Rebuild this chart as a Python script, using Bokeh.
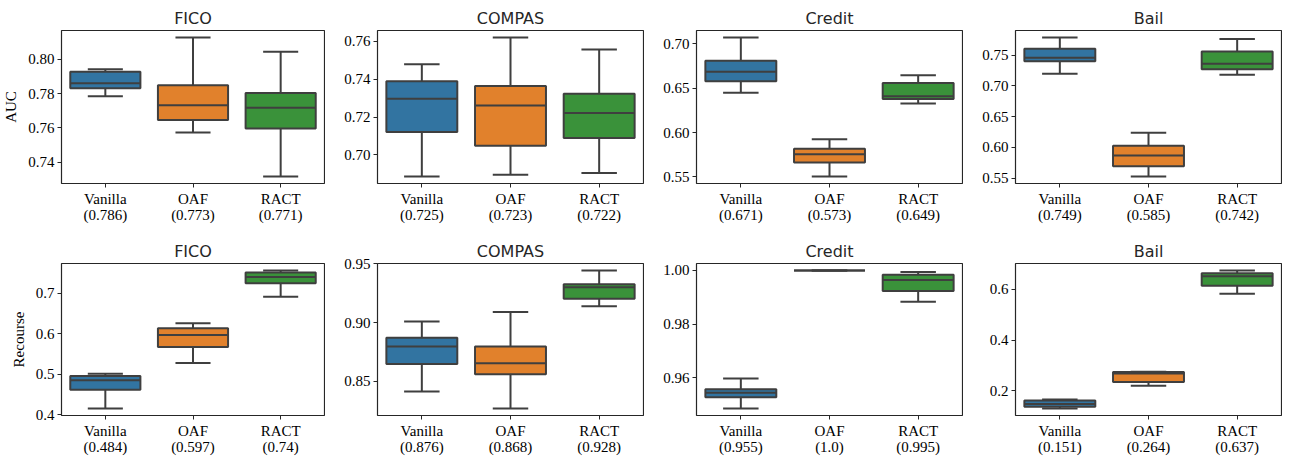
from bokeh.plotting import figure
from bokeh.layouts import gridplot
from bokeh.models import Range1d, FixedTicker, NumeralTickFormatter
from bokeh.embed import file_html
from bokeh.resources import INLINE

methods = ["Vanilla", "OAF", "RACT"]
colors = ["#3274a1", "#e1812c", "#3a923a"]
datasets = ["FICO", "COMPAS", "Credit", "Bail"]
metrics = ["AUC", "Recourse"]

# per method: [lower whisker, q1, median, q3, upper whisker]
fico_auc = [[0.7784, 0.7831, 0.7860, 0.7928, 0.7942],
            [0.7573, 0.7645, 0.7732, 0.7849, 0.8128],
            [0.7315, 0.7596, 0.7717, 0.7804, 0.8045]]
compas_auc = [[0.6886, 0.7122, 0.7297, 0.7389, 0.7480],
              [0.6896, 0.7049, 0.7262, 0.7364, 0.7621],
              [0.6905, 0.7090, 0.7222, 0.7324, 0.7558]]
credit_auc = [[0.6447, 0.6577, 0.6686, 0.6809, 0.7071],
              [0.5504, 0.5661, 0.5755, 0.5818, 0.5923],
              [0.6327, 0.6379, 0.6409, 0.6559, 0.6645]]
bail_auc = [[0.7198, 0.7398, 0.7457, 0.7602, 0.7786],
            [0.5527, 0.5694, 0.5867, 0.6028, 0.6239],
            [0.7182, 0.7268, 0.7360, 0.7559, 0.7759]]
fico_rec = [[0.4147, 0.4613, 0.4849, 0.4957, 0.5013],
            [0.5275, 0.5675, 0.5970, 0.6141, 0.6264],
            [0.6918, 0.7253, 0.7409, 0.7523, 0.7572]]
compas_rec = [[0.8413, 0.8646, 0.8795, 0.8871, 0.9008],
              [0.8267, 0.8559, 0.8654, 0.8795, 0.9090],
              [0.9138, 0.9202, 0.9301, 0.9326, 0.9444]]
credit_rec = [[0.9486, 0.9528, 0.9545, 0.9558, 0.9598],
              [1.0000, 1.0000, 1.0000, 1.0000, 1.0000],
              [0.9883, 0.9923, 0.9964, 0.9984, 0.9994]]
bail_rec = [[0.1304, 0.1381, 0.1486, 0.1625, 0.1664],
            [0.2206, 0.2349, 0.2686, 0.2745, 0.2750],
            [0.5822, 0.6130, 0.6503, 0.6620, 0.6736]]

# means shown in tick labels
fico_auc_mean = [0.786, 0.773, 0.771]
compas_auc_mean = [0.725, 0.723, 0.722]
credit_auc_mean = [0.671, 0.573, 0.649]
bail_auc_mean = [0.749, 0.585, 0.742]
fico_rec_mean = [0.484, 0.597, 0.74]
compas_rec_mean = [0.876, 0.868, 0.928]
credit_rec_mean = [0.955, 1.0, 0.995]
bail_rec_mean = [0.151, 0.264, 0.637]

# y tick positions
fico_auc_ticks = [0.74, 0.76, 0.78, 0.80]
compas_auc_ticks = [0.70, 0.72, 0.74, 0.76]
credit_auc_ticks = [0.55, 0.60, 0.65, 0.70]
bail_auc_ticks = [0.55, 0.60, 0.65, 0.70, 0.75]
fico_rec_ticks = [0.4, 0.5, 0.6, 0.7]
compas_rec_ticks = [0.85, 0.90, 0.95]
credit_rec_ticks = [0.96, 0.98, 1.00]
bail_rec_ticks = [0.2, 0.4, 0.6]

panels = [
    [(fico_auc, fico_auc_mean, fico_auc_ticks, "0.00"),
     (compas_auc, compas_auc_mean, compas_auc_ticks, "0.00"),
     (credit_auc, credit_auc_mean, credit_auc_ticks, "0.00"),
     (bail_auc, bail_auc_mean, bail_auc_ticks, "0.00")],
    [(fico_rec, fico_rec_mean, fico_rec_ticks, "0.0"),
     (compas_rec, compas_rec_mean, compas_rec_ticks, "0.00"),
     (credit_rec, credit_rec_mean, credit_rec_ticks, "0.00"),
     (bail_rec, bail_rec_mean, bail_rec_ticks, "0.0")],
]

EDGE = "#3f3f3f"
TXT = "#262626"
SERIF = "Liberation Serif"

row_cfg = [dict(height=227, top=30, bottom=44), dict(height=232, top=36, bottom=44)]

rows = []
for r, row in enumerate(panels):
    figs = []
    for c, (stats, means, ticks, fmt) in enumerate(row):
        allv = [v for s in stats for v in s]
        lo, hi = min(allv), max(allv)
        pad = (hi - lo) * 0.05
        left = 58 if c == 0 else 52
        width = left + 266 + 1
        p = figure(width=width, height=row_cfg[r]["height"],
                   x_range=Range1d(-0.5, 2.5), y_range=Range1d(lo - pad, hi + pad),
                   output_backend="svg", toolbar_location=None,
                   min_border_left=left, min_border_right=1,
                   min_border_top=row_cfg[r]["top"], min_border_bottom=row_cfg[r]["bottom"],
                   title=datasets[c])
        p.title.align = "center"
        p.title.text_font = "DejaVu Sans"
        p.title.text_font_size = "16px"
        p.title.text_font_style = "normal"
        p.title.text_color = TXT
        p.title.standoff = 5
        p.xgrid.visible = False
        p.ygrid.visible = False
        p.outline_line_color = TXT
        p.outline_line_width = 1.2
        p.background_fill_color = "white"

        xs = list(range(len(methods)))
        low = [s[0] for s in stats]
        q1 = [s[1] for s in stats]
        med = [s[2] for s in stats]
        q3 = [s[3] for s in stats]
        high = [s[4] for s in stats]

        p.segment(x0=xs, y0=q3, x1=xs, y1=high, line_color=EDGE, line_width=2)
        p.segment(x0=xs, y0=q1, x1=xs, y1=low, line_color=EDGE, line_width=2)
        p.vbar(x=xs, width=0.8, bottom=q1, top=q3, fill_color=colors,
               line_color=EDGE, line_width=2)
        p.segment(x0=[x - 0.4 for x in xs], y0=med, x1=[x + 0.4 for x in xs], y1=med,
                  line_color=EDGE, line_width=2)
        p.segment(x0=[x - 0.2 for x in xs], y0=high, x1=[x + 0.2 for x in xs], y1=high,
                  line_color=EDGE, line_width=2)
        p.segment(x0=[x - 0.2 for x in xs], y0=low, x1=[x + 0.2 for x in xs], y1=low,
                  line_color=EDGE, line_width=2)

        p.xaxis.ticker = FixedTicker(ticks=xs)
        p.xaxis.major_label_overrides = {x: f"{methods[x]}\n({means[x]})" for x in xs}
        p.yaxis.ticker = FixedTicker(ticks=ticks)
        p.yaxis.formatter = NumeralTickFormatter(format=fmt)
        for ax in (p.xaxis, p.yaxis):
            ax.axis_line_color = None
            ax.major_tick_line_color = TXT
            ax.major_tick_out = 4
            ax.major_tick_in = 0
            ax.minor_tick_line_color = None
            ax.major_label_text_font = SERIF
            ax.major_label_text_font_size = "15px"
            ax.major_label_text_color = "black"
            ax.major_label_standoff = 3
            ax.major_label_text_line_height = 1.0
        if c == 0:
            p.yaxis.axis_label = metrics[r]
            p.yaxis.axis_label_text_font = SERIF
            p.yaxis.axis_label_text_font_size = "15px"
            p.yaxis.axis_label_text_font_style = "normal"
            p.yaxis.axis_label_text_color = "black"
            p.yaxis.axis_label_standoff = 6
        figs.append(p)
    rows.append(figs)

layout = gridplot(rows, toolbar_location=None)
open("out.html", "w").write(file_html(layout, INLINE))
